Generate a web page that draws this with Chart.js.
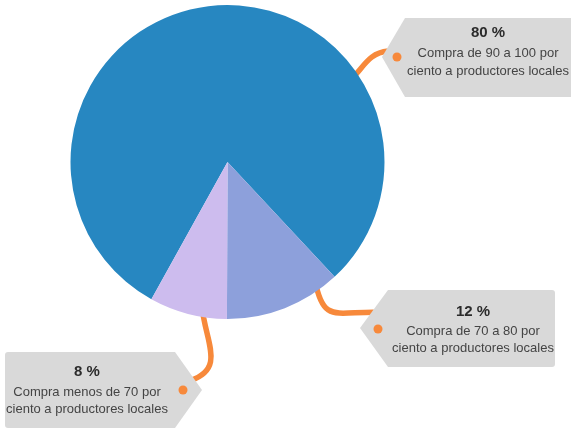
<!DOCTYPE html>
<html>
<head>
<meta charset="utf-8">
<script src="https://cdn.jsdelivr.net/npm/chart.js@4"></script>
<style>
  html, body { margin: 0; padding: 0; background: #fff; }
  #wrap { width: 571px; height: 430px; }
</style>
</head>
<body>
<div id="wrap"><canvas id="chart"></canvas></div>
<script>
// compra a productores locales
const shares = [80, 12, 8];
const descriptions = [
  ['Compra de 90 a 100 por', 'ciento a productores locales'],
  ['Compra de 70 a 80 por', 'ciento a productores locales'],
  ['Compra menos de 70 por', 'ciento a productores locales']
];
const sliceColors = ['#2787c1', '#8da0db', '#cdbcee'];

// callouts: where the line leaves the slice (fraction of its arc),
// bezier offsets from that point, and the tag box
const callouts = [
  { at: 0.72, c1: [6, -8], c2: [10, -22], end: [30, -24],
    box: { side: 'left', tipX: 382, tipY: 57, edge: 405, far: 585, top: 18, bottom: 97 },
    textX: 488, textY: [33, 53, 71], dot: [397, 57] },
  { at: 0.15, c1: [2, 34], c2: [14, 24], end: [52, 24],
    box: { side: 'left', tipX: 360, tipY: 328, edge: 388, far: 555, top: 290, bottom: 367 },
    textX: 473, textY: [312, 331, 348], dot: [378, 329] },
  { at: 0.34, c1: [5, 25], c2: [26, 52], end: [-10, 64],
    box: { side: 'right', tipX: 202, tipY: 390, edge: 175, far: 5, top: 352, bottom: 428 },
    textX: 87, textY: [372, 392, 409], dot: [183, 390] }
];

const ORANGE = '#f7893b';
const FONT = '"Liberation Sans", Arial, sans-serif';

function anchorOf(arc, frac, inset) {
  const p = arc.getProps(['x', 'y', 'startAngle', 'endAngle', 'outerRadius'], true);
  const a = p.startAngle + (p.endAngle - p.startAngle) * frac;
  const r = p.outerRadius - (inset || 0);
  return { x: p.x + Math.cos(a) * r, y: p.y + Math.sin(a) * r };
}

function tagPath(ctx, b) {
  const r = 3;
  ctx.beginPath();
  if (b.side === 'left') {
    ctx.moveTo(b.tipX, b.tipY);
    ctx.lineTo(b.edge, b.top);
    ctx.lineTo(b.far - r, b.top);
    ctx.quadraticCurveTo(b.far, b.top, b.far, b.top + r);
    ctx.lineTo(b.far, b.bottom - r);
    ctx.quadraticCurveTo(b.far, b.bottom, b.far - r, b.bottom);
    ctx.lineTo(b.edge, b.bottom);
  } else {
    ctx.moveTo(b.tipX, b.tipY);
    ctx.lineTo(b.edge, b.top);
    ctx.lineTo(b.far + r, b.top);
    ctx.quadraticCurveTo(b.far, b.top, b.far, b.top + r);
    ctx.lineTo(b.far, b.bottom - r);
    ctx.quadraticCurveTo(b.far, b.bottom, b.far + r, b.bottom);
    ctx.lineTo(b.edge, b.bottom);
  }
  ctx.closePath();
}

const calloutPlugin = {
  id: 'callouts',
  beforeDatasetsDraw(chart) {
    const ctx = chart.ctx;
    const arcs = chart.getDatasetMeta(0).data;
    ctx.save();
    ctx.strokeStyle = ORANGE;
    ctx.lineWidth = 5.5;
    ctx.lineCap = 'round';
    callouts.forEach((c, i) => {
      const a = anchorOf(arcs[i], c.at, 0);
      const s = anchorOf(arcs[i], c.at, 10);
      ctx.beginPath();
      ctx.moveTo(s.x, s.y);
      ctx.bezierCurveTo(a.x + c.c1[0], a.y + c.c1[1], a.x + c.c2[0], a.y + c.c2[1],
                        a.x + c.end[0], a.y + c.end[1]);
      ctx.stroke();
    });
    ctx.restore();
  },
  afterDatasetsDraw(chart) {
    const ctx = chart.ctx;
    ctx.save();
    callouts.forEach((c, i) => {
      tagPath(ctx, c.box);
      ctx.fillStyle = '#d9d9d9';
      ctx.fill();

      ctx.fillStyle = ORANGE;
      ctx.beginPath();
      ctx.arc(c.dot[0], c.dot[1], 4.5, 0, Math.PI * 2);
      ctx.fill();

      ctx.textAlign = 'center';
      ctx.textBaseline = 'middle';
      ctx.fillStyle = '#2b2b2b';
      ctx.font = 'bold 15px ' + FONT;
      ctx.fillText(shares[i] + ' %', c.textX, c.textY[0]);
      ctx.fillStyle = '#444';
      ctx.font = '13px ' + FONT;
      ctx.fillText(descriptions[i][0], c.textX, c.textY[1]);
      ctx.fillText(descriptions[i][1], c.textX, c.textY[2]);
    });
    ctx.restore();
  }
};

new Chart(document.getElementById('chart'), {
  type: 'pie',
  data: {
    labels: descriptions.map(d => d.join(' ')),
    datasets: [{
      data: shares,
      backgroundColor: sliceColors,
      borderWidth: 0
    }]
  },
  options: {
    responsive: true,
    maintainAspectRatio: false,
    animation: false,
    rotation: 209,
    layout: { padding: { left: 70.5, top: 5, right: 186.5, bottom: 111 } },
    plugins: {
      legend: { display: false },
      tooltip: { enabled: false }
    }
  },
  plugins: [calloutPlugin]
});
</script>
</body>
</html>
